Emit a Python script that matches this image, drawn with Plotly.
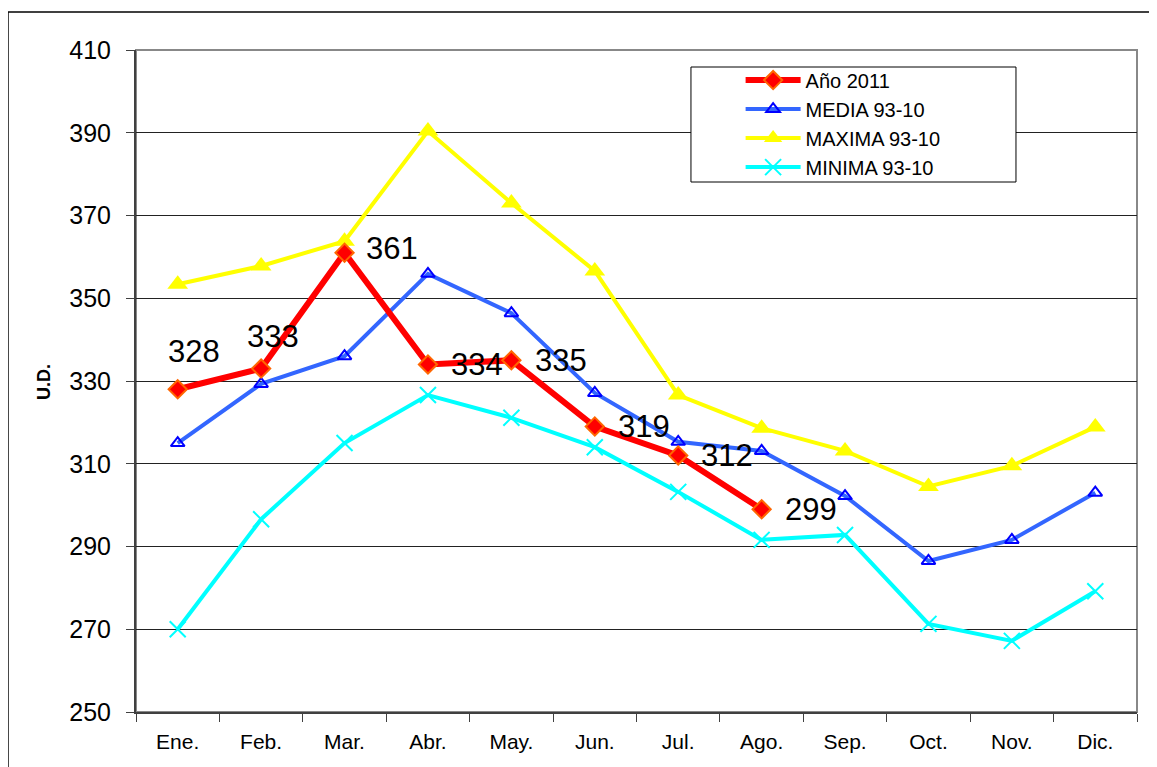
import plotly.graph_objects as go

months = ["Ene.", "Feb.", "Mar.", "Abr.", "May.", "Jun.", "Jul.", "Ago.", "Sep.", "Oct.", "Nov.", "Dic."]
anio_2011 = [328, 333, 361, 334, 335, 319, 312, 299]
media = [315, 329.3, 336, 355.9, 346.4, 327.1, 315.3, 313.1, 302.2, 286.5, 291.6, 303]
maxima = [353.4, 357.8, 363.8, 390.4, 373, 356.6, 326.6, 318.6, 313.1, 304.5, 309.5, 318.9]
minima = [270, 296.6, 315, 326.6, 321.1, 314, 303.2, 291.6, 292.8, 271.3, 267.2, 279.2]
y_ticks = [250, 270, 290, 310, 330, 350, 370, 390, 410]

# label pixel offsets (style)
label_dx = [16, 12, 47, 49, 50, 49, 49, 49]
label_dy = [38, 32, 4, 0, 0, 0, 0, 0]

FONT = "Liberation Sans, Arial, sans-serif"

fig = go.Figure()

fig.add_trace(go.Scatter(
    x=months, y=maxima, name="MAXIMA 93-10", mode="lines+markers",
    line=dict(color="#FFFF00", width=4),
    marker=dict(symbol="triangle-up", size=18, color="#FFFF00"),
    legendrank=3))
fig.add_trace(go.Scatter(
    x=months, y=minima, name="MINIMA 93-10", mode="lines+markers",
    line=dict(color="#00FFFF", width=4),
    marker=dict(symbol="x-thin", size=16, color="#00FFFF", line=dict(color="#00FFFF", width=2)),
    legendrank=4))
fig.add_trace(go.Scatter(
    x=months, y=media, name="MEDIA 93-10", mode="lines+markers",
    line=dict(color="#3366FF", width=4),
    marker=dict(symbol="triangle-up-open", size=12, color="#0000FF", line=dict(color="#0000FF", width=2)),
    legendrank=2))
fig.add_trace(go.Scatter(
    x=months[:len(anio_2011)], y=anio_2011, name="Año 2011", mode="lines+markers",
    line=dict(color="#FF0000", width=6),
    marker=dict(symbol="diamond", size=14, color="#FF0000", line=dict(color="#FF6600", width=2)),
    legendrank=1))

for i, v in enumerate(anio_2011):
    fig.add_annotation(x=months[i], y=v, text=str(v), showarrow=False,
                       xshift=label_dx[i], yshift=label_dy[i],
                       font=dict(family=FONT, size=31, color="black"))

fig.add_annotation(xref="paper", yref="paper", x=-0.092, y=0.4985, text="<b>U.D.</b>",
                   textangle=-90, showarrow=False, xanchor="center", yanchor="middle",
                   font=dict(family=FONT, size=18, color="black"))

# outer chart border (left and top)
fig.add_shape(type="line", xref="paper", yref="paper", x0=-0.1279, x1=-0.1279, y0=1.0574, y1=-0.2,
              line=dict(color="black", width=1.5))
fig.add_shape(type="line", xref="paper", yref="paper", x0=-0.1279, x1=1.05, y0=1.0574, y1=1.0574,
              line=dict(color="black", width=1.5))
# plot area border (right/top gray)
fig.add_shape(type="rect", xref="paper", yref="paper", x0=0, x1=1, y0=0, y1=1,
              line=dict(color="#888888", width=2), layer="below")
# legend box
fig.add_shape(type="rect", xref="paper", yref="paper", x0=0.5544, x1=0.8791, y0=0.8006, y1=0.9743,
              line=dict(color="black", width=1), fillcolor="white", layer="above")

fig.update_layout(
    width=1149, height=759,
    margin=dict(l=128, r=20, t=42, b=55),
    paper_bgcolor="white", plot_bgcolor="white",
    font=dict(family=FONT, color="black"),
    showlegend=True,
    legend=dict(x=0.604, y=0.984, xanchor="left", yanchor="top",
                borderwidth=0, bgcolor="rgba(0,0,0,0)",
                font=dict(family=FONT, size=20, color="black"),
                tracegroupgap=0, itemwidth=55),
    xaxis=dict(type="category", categoryorder="array", categoryarray=months,
               tickson="boundaries", ticks="outside", ticklen=8, tickcolor="#404040",
               showline=True, linecolor="#404040", linewidth=2,
               showgrid=False, tickfont=dict(family=FONT, size=21), ticklabelstandoff=10,
               range=[-0.5, 11.5]),
    yaxis=dict(range=[250, 410], tickvals=y_ticks, ticks="outside", ticklen=8, tickcolor="#404040",
               showline=True, linecolor="#404040", linewidth=2,
               showgrid=True, gridcolor="#222222", gridwidth=1,
               tickfont=dict(family=FONT, size=25), ticklabelstandoff=10, zeroline=False),
)

fig.write_html("out.html")
